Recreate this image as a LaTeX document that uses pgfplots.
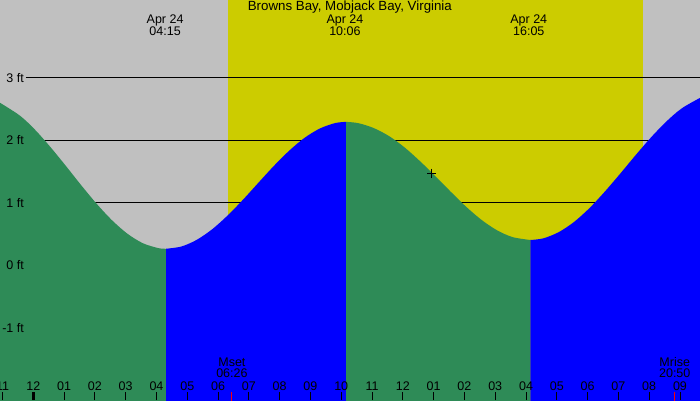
\documentclass[border=0pt]{standalone}
\usepackage{pgfplots}
\pgfplotsset{compat=1.18}
\usepackage{fontspec}
\setmainfont{Liberation Sans}
\definecolor{nightgray}{RGB}{192,192,192}
\definecolor{dayyellow}{RGB}{204,204,0}
\definecolor{tidegreen}{RGB}{46,139,87}
\definecolor{tideblue}{RGB}{0,0,255}
\begin{document}
\begin{tikzpicture}[font=\fontsize{12.5}{12.5}\selectfont]
\begin{axis}[
  name=main,
  scale only axis, width=700pt, height=400pt,
  xmin=-1.081, xmax=21.65, ymin=-2.16, ymax=4.24,
  axis line style={draw=none},
  axis background/.style={fill=nightgray},
  axis on top,
  xtick={-1,0,...,21},
  xticklabels={11,12,01,02,03,04,05,06,07,08,09,10,11,12,01,02,03,04,05,06,07,08,09},
  xtick pos=bottom, tick align=inside, major tick length=8pt,
  tick style={black, line width=0.9pt},
  ytick=\empty,
  xticklabel style={anchor=base, yshift=10pt, font=\fontsize{12.5}{12.5}\selectfont},
  extra x ticks={0}, extra x tick labels={},
  extra x tick style={tick style={black, line width=3pt}},
]
% daylight
\addplot[fill=dayyellow, draw=none] coordinates {(6.31,-2.3) (6.31,4.3) (19.79,4.3) (19.79,-2.3)} -- cycle;
% reference lines
\addplot[black, line width=0.9pt] coordinates {(-0.24,1) (21.8,1)};
\addplot[black, line width=0.9pt] coordinates {(-0.24,2) (21.8,2)};
\addplot[black, line width=0.9pt] coordinates {(-0.24,3) (21.8,3)};
% tide: falling
\addplot[fill=tidegreen, draw=none, smooth] coordinates {
 (-1.14,2.613) (-0.44,2.392) (0.06,2.162) (0.56,1.885) (1.06,1.584) (1.56,1.274) (2.06,0.978)
 (2.56,0.714) (3.06,0.499) (3.56,0.348) (4.06,0.270) (4.31,0.26)}
 -- (axis cs:4.31,-2.3) -- (axis cs:-1.14,-2.3) -- cycle;
% rising
\addplot[fill=tideblue, draw=none, smooth] coordinates {
 (4.31,0.26) (4.81,0.296) (5.31,0.403) (5.81,0.572) (6.31,0.792) (6.81,1.045)
 (7.31,1.316) (7.81,1.584) (8.31,1.829) (8.81,2.035) (9.31,2.185) (9.81,2.272) (10.16,2.29)}
 -- (axis cs:10.16,-2.3) -- (axis cs:4.31,-2.3) -- cycle;
% falling
\addplot[fill=tidegreen, draw=none, smooth] coordinates {
 (10.16,2.29) (10.56,2.269) (11.06,2.19) (11.56,2.06) (12.06,1.88) (12.56,1.66) (13.06,1.42)
 (13.56,1.17) (14.06,0.93) (14.56,0.72) (15.06,0.555) (15.56,0.447) (16.14,0.40)}
 -- (axis cs:16.14,-2.3) -- (axis cs:10.16,-2.3) -- cycle;
% rising
\addplot[fill=tideblue, draw=none, smooth] coordinates {
 (16.14,0.40) (16.56,0.426) (17.06,0.525) (17.56,0.689) (18.06,0.910) (18.56,1.175) (19.06,1.462)
 (19.56,1.758) (20.06,2.042) (20.56,2.297) (21.06,2.507) (21.71,2.689) (21.86,2.713)}
 -- (axis cs:21.86,-2.3) -- (axis cs:16.14,-2.3) -- cycle;
% current time marker
\addplot[only marks, mark=+, mark size=4.5pt, black, line width=1.2pt] coordinates {(12.94,1.47)};
% moon ticks
\addplot[red, line width=1.3pt] coordinates {(6.433,-2.2) (6.433,-2.032)};
\addplot[red, line width=1.3pt] coordinates {(20.833,-2.2) (20.833,-2.032)};
% y labels
\node[anchor=base east, inner sep=0pt] at (axis cs:-0.30,2.925) {3 ft};
\node[anchor=base east, inner sep=0pt] at (axis cs:-0.30,1.925) {2 ft};
\node[anchor=base east, inner sep=0pt] at (axis cs:-0.30,0.925) {1 ft};
\node[anchor=base east, inner sep=0pt] at (axis cs:-0.30,-0.075) {0 ft};
\node[anchor=base east, inner sep=0pt] at (axis cs:-0.30,-1.075) {-1 ft};
% title and event labels
\node[anchor=base, inner sep=0pt, font=\fontsize{13.3}{13.3}\selectfont] at (axis cs:10.28,4.064) {Browns Bay, Mobjack Bay, Virginia};
\node[anchor=base, inner sep=0pt] at (axis cs:4.28,3.856) {Apr 24};
\node[anchor=base, inner sep=0pt] at (axis cs:4.28,3.664) {04:15};
\node[anchor=base, inner sep=0pt] at (axis cs:10.12,3.856) {Apr 24};
\node[anchor=base, inner sep=0pt] at (axis cs:10.12,3.664) {10:06};
\node[anchor=base, inner sep=0pt] at (axis cs:16.09,3.856) {Apr 24};
\node[anchor=base, inner sep=0pt] at (axis cs:16.09,3.664) {16:05};
\node[anchor=base, inner sep=0pt] at (axis cs:6.45,-1.627) {Mset};
\node[anchor=base, inner sep=0pt] at (axis cs:6.45,-1.803) {06:26};
\node[anchor=base, inner sep=0pt] at (axis cs:20.83,-1.627) {Mrise};
\node[anchor=base, inner sep=0pt] at (axis cs:20.83,-1.803) {20:50};
\end{axis}
\pgfresetboundingbox
\useasboundingbox (main.south west) rectangle (main.north east);
\end{tikzpicture}
\end{document}
